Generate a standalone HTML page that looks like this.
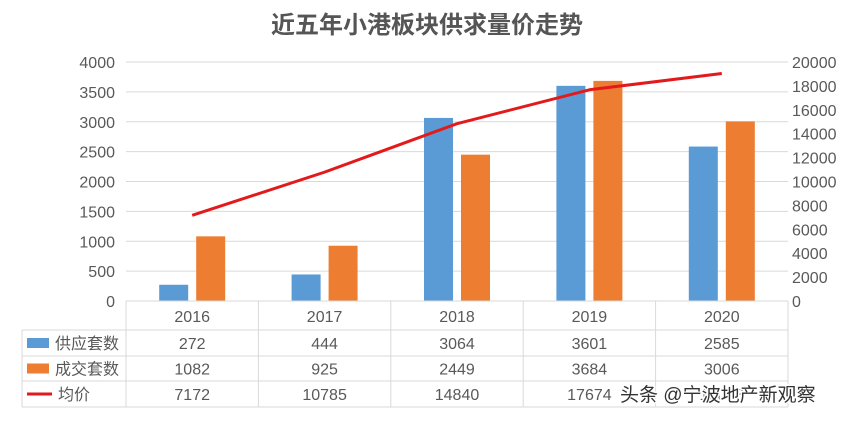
<!DOCTYPE html>
<html><head><meta charset="utf-8"><style>
body{margin:0;background:#fff;}
svg text{font-family:"Liberation Sans","Noto Sans CJK SC",sans-serif;}
</style></head><body>
<svg width="854" height="423" viewBox="0 0 854 423">
<text x="427" y="33" text-anchor="middle" font-size="24" font-weight="bold" fill="#555">近五年小港板块供求量价走势</text>
<g id="grid"></g><g id="bars"></g><g id="line"></g><g id="table"></g>
<text x="620" y="401" font-size="19" fill="#333" stroke="#fff" stroke-width="3" paint-order="stroke">头条 @宁波地产新观察</text>
</svg>
<script>
const categories=["2016","2017","2018","2019","2020"];
const supply=[272,444,3064,3601,2585];
const deals=[1082,925,2449,3684,3006];
const price=[7172,10785,14840,17674,19038];
const leftTicks=[0,500,1000,1500,2000,2500,3000,3500,4000];
const rightTicks=[0,2000,4000,6000,8000,10000,12000,14000,16000,18000,20000];
const NS="http://www.w3.org/2000/svg";
const x0=126,colW=132.4,y0=301,yTop=62;
const yL=v=>y0-(v/4000)*(y0-yTop);
const yR=v=>y0-(v/20000)*(y0-yTop);
const cx=i=>x0+colW*(i+0.5);
function mk(tag,attrs,parent,txt){const e=document.createElementNS(NS,tag);for(const k in attrs)e.setAttribute(k,attrs[k]);if(txt!==undefined)e.textContent=txt;document.getElementById(parent).appendChild(e);return e;}
leftTicks.forEach(t=>{
 const l=mk('line',{x1:x0,x2:x0+colW*5,y1:yL(t),y2:yL(t),stroke:t?'#d9d9d9':'#bfbfbf','stroke-width':1},'grid');
 
 
 const e=mk('text',{x:115,y:yL(t)+6,'text-anchor':'end','font-size':16,fill:'#595959'},'grid',t);
 
 
});
rightTicks.forEach(t=>{
 const e=mk('text',{x:792,y:yR(t)+6,'font-size':16,fill:'#595959'},'grid',t);
 
 
});
categories.forEach((c,i)=>{
 const b=mk('rect',{x:cx(i)-33,y:yL(supply[i]),width:29,height:y0-yL(supply[i]),fill:'#5b9bd5'},'bars');
 
 
 const o=mk('rect',{x:cx(i)+4,y:yL(deals[i]),width:29,height:y0-yL(deals[i]),fill:'#ed7d31'},'bars');
 
 
});
const pts=price.map((v,i)=>cx(i)+','+yR(v)).join(' ');
const pl=mk('polyline',{points:pts,fill:'none',stroke:'#e31a1c','stroke-width':3,'stroke-linejoin':'round'},'line');


const rows=[301,330,356,381,407];
const tl=22;
rows.forEach((y,r)=>{const l=mk('line',{x1:r===0?x0:tl,x2:x0+colW*5,y1:y,y2:y,stroke:'#d9d9d9'},'table');
 
 });
for(let k=0;k<=5;k++){const l=mk('line',{x1:x0+colW*k,x2:x0+colW*k,y1:301,y2:407,stroke:'#d9d9d9'},'table');
 
 }
const v=mk('line',{x1:tl,x2:tl,y1:330,y2:407,stroke:'#d9d9d9'},'table');


categories.forEach((c,i)=>{const e=mk('text',{x:cx(i),y:322,'text-anchor':'middle','font-size':16,fill:'#595959'},'table',c);
 
 });
const series=[["供应套数",supply,'#5b9bd5'],["成交套数",deals,'#ed7d31'],["均价",price,'#e31a1c']];
series.forEach((s,r)=>{
 const yc=(rows[r+1]+rows[r+2])/2;
 let k;
 if(r<2) k=mk('rect',{x:27,y:yc-5,width:22,height:10,fill:s[2]},'table');
 else k=mk('line',{x1:27,x2:52,y1:yc,y2:yc,stroke:s[2],'stroke-width':3},'table');
 
 
 const n=mk('text',{x:r<2?55:58,y:yc+6,'font-size':16,fill:'#595959'},'table',s[0]);
 
 
 s[1].forEach((val,i)=>{const e=mk('text',{x:cx(i),y:yc+6,'text-anchor':'middle','font-size':16,fill:'#595959'},'table',val);
  
  });
});
</script>
</body></html>
